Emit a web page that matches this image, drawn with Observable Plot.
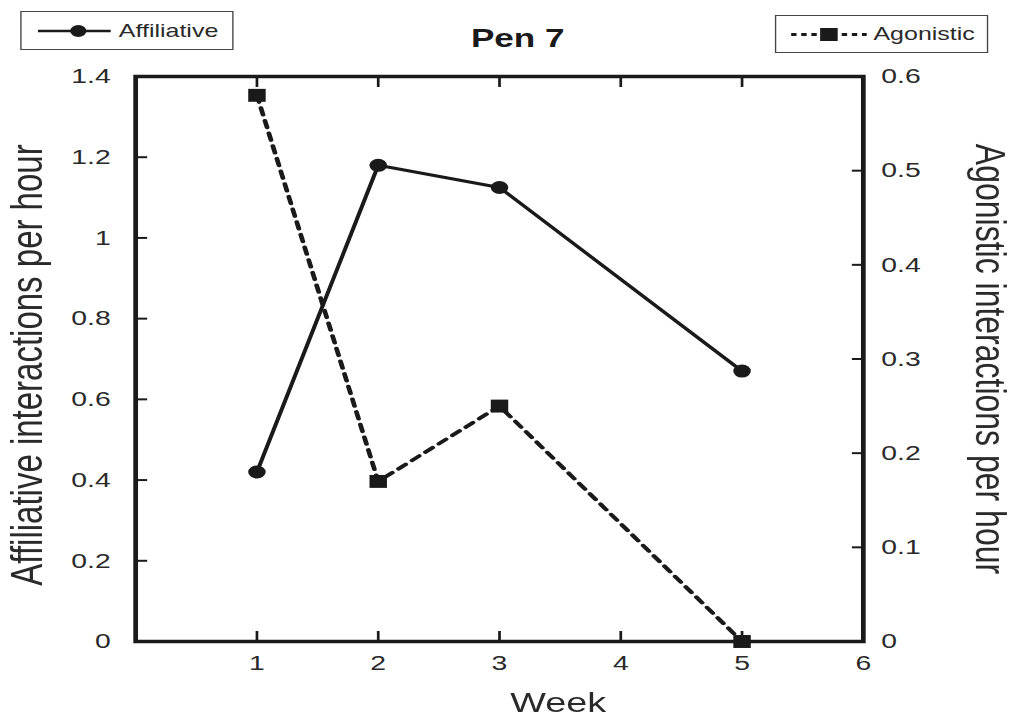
<!DOCTYPE html>
<html>
<head>
<meta charset="utf-8">
<script src="https://cdn.jsdelivr.net/npm/d3@7"></script>
<script src="https://cdn.jsdelivr.net/npm/@observablehq/plot@0.6"></script>
<style>
  body { margin: 0; background: #fff; font-family: "Liberation Sans", Arial, sans-serif; }
  #wrap { position: relative; width: 752px; height: 717px; transform: scaleX(1.35); transform-origin: 0 0; }
  .legend { position: absolute; border: 1.5px solid #444; box-sizing: border-box; background: #fff; }
  .legend svg { position: absolute; top: 0; }
  .legend span { position: absolute; top: 0; height: 100%; display: flex; align-items: center; font-size: 18.5px; color: #2a2a2a; }
</style>
</head>
<body>
<div id="wrap">
  <div class="legend" style="left:15px;top:11px;width:158px;height:39px;">
    <svg width="58" height="36" style="left:12px;">
      <line x1="0" x2="54" y1="19" y2="19" stroke="#1a1a1a" stroke-width="2.5"></line>
      <ellipse cx="30" cy="19" rx="6" ry="6" fill="#1a1a1a"></ellipse>
    </svg>
    <span style="left:72px;">Affiliative</span>
  </div>
  <div class="legend" style="left:574px;top:15px;width:158px;height:38px;">
    <svg width="58" height="35" style="left:11px;">
      <line x1="0" x2="56" y1="18.5" y2="18.5" stroke="#1a1a1a" stroke-width="3" stroke-dasharray="4,3.5"></line>
      <rect x="21.5" y="12" width="13" height="13" fill="#1a1a1a"></rect>
    </svg>
    <span style="left:72px;">Agonistic</span>
  </div>
</div>
<script>
const weeks = [1, 2, 3, 5];
const affiliative = [0.42, 1.18, 1.125, 0.67];
const agonistic = [0.58, 0.17, 0.25, 0];
const xTicks = [1, 2, 3, 4, 5, 6];
const leftTicks = [0, 0.2, 0.4, 0.6, 0.8, 1, 1.2, 1.4];
const rightTicks = [0, 0.1, 0.2, 0.3, 0.4, 0.5, 0.6];
const title = "Pen 7";
const xLabel = "Week";
const leftLabel = "Affiliative interactions per hour";
const rightLabel = "Agonistic interactions per hour";

const k = 1.4 / 0.6; // right axis scale factor
const affData = weeks.map((w, i) => ({week: w, value: affiliative[i]}));
const agoData = weeks.map((w, i) => ({week: w, value: agonistic[i] * k}));
const ink = "#1a1a1a";
const txt = "#2a2a2a";

const chart = Plot.plot({
  width: 752,
  height: 717,
  marginLeft: 100,
  marginRight: 113,
  marginTop: 76,
  marginBottom: 76,
  style: {fontFamily: "'Liberation Sans', Arial, sans-serif", background: "#fff", overflow: "visible"},
  x: {domain: [0, 6]},
  y: {domain: [0, 1.4]},
  marks: [
    Plot.axisX({anchor: "bottom", ticks: xTicks, tickSize: -10, tickPadding: 24, tickFormat: d => String(d), fontSize: 21, color: txt, stroke: ink, strokeWidth: 2, label: null}),
    Plot.axisX({anchor: "top", ticks: xTicks, tickSize: -10, tickFormat: () => "", stroke: ink, strokeWidth: 2, label: null}),
    Plot.axisY({anchor: "left", ticks: leftTicks, tickSize: -9, tickPadding: 27.5, tickFormat: d => String(+d.toFixed(1)), fontSize: 21, color: txt, stroke: ink, strokeWidth: 2, label: null}),
    Plot.axisY({anchor: "right", ticks: rightTicks.map(v => v * k), tickSize: -9, tickPadding: 22.3, tickFormat: d => String(+(d / k).toFixed(1)), fontSize: 21, color: txt, stroke: ink, strokeWidth: 2, label: null}),
    Plot.line(affData, {x: "week", y: "value", stroke: ink, strokeWidth: 3}),
    Plot.line(agoData, {x: "week", y: "value", stroke: ink, strokeWidth: 3.5, strokeDasharray: "7,6"}),
    Plot.dot(affData, {x: "week", y: "value", r: 6.5, fill: ink, stroke: "none"}),
    Plot.dot(agoData, {x: "week", y: "value", symbol: "square", r: 7.3, fill: ink, stroke: "none"}),
    Plot.frame({stroke: ink, strokeWidth: 3.5}),
    Plot.text([title], {frameAnchor: "top", dx: 13.5, dy: -38, lineAnchor: "middle", fontSize: 26, fontWeight: "bold", fill: "#1a1a1a"}),
    Plot.text([xLabel], {frameAnchor: "bottom", dx: 43.5, dy: 62, lineAnchor: "middle", fontSize: 28, fill: txt}),
    Plot.text([leftLabel], {frameAnchor: "left", dx: -80, dy: 6, rotate: -90, textAnchor: "middle", lineAnchor: "middle", fontSize: 33, fill: txt}),
    Plot.text([rightLabel], {frameAnchor: "right", dx: 94, rotate: 90, textAnchor: "middle", lineAnchor: "middle", fontSize: 32, fill: txt})
  ]
});
document.getElementById("wrap").prepend(chart);
</script>
</body>
</html>
